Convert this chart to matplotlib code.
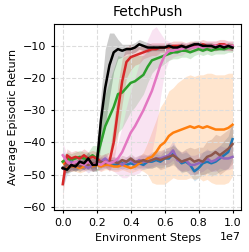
import matplotlib
matplotlib.use("Agg")
import matplotlib.pyplot as plt
import numpy as np

steps = np.linspace(0, 1e7, 41)

# mean curves
blue = [-48, -48, -47.5, -47, -47.5, -47, -47, -47.5, -47, -47, -46.5, -47, -47, -47, -46.5, -47, -46.5, -47, -46.5, -47,
        -46, -46, -45.5, -46, -45, -45, -43.5, -45, -46.5, -46, -47, -49, -48, -46.5, -46, -46.5, -46, -45, -44, -43, -39]
orange = [-46, -48, -47.5, -47.5, -48, -47.5, -47, -47.5, -47, -47.5, -47, -47, -47.5, -47.5, -47, -47.5, -48, -47.5, -46.5, -46,
          -45, -44.5, -43, -41, -40, -38, -37, -36.5, -36, -35.5, -35, -35.5, -35, -35.5, -35, -35.5, -36, -36, -36, -35.5, -34.5]
green = [-46, -45, -45.5, -45, -44.5, -45, -45, -44, -45, -40, -35, -32, -29, -25, -24.5, -23, -21.5, -21, -20, -19,
         -16.5, -14.5, -14, -13.5, -13, -12.5, -12, -12, -11.5, -11.5, -12, -11.5, -11, -11.5, -11, -11.5, -11, -11, -11, -10.5, -10.5]
red = [-53, -44, -45, -44.5, -45, -44, -45, -44.5, -45, -46, -45.5, -46, -40, -30, -21, -15, -13.5, -13, -12.5, -12,
       -11.5, -11, -11, -10.5, -10.5, -10.5, -10, -10, -10, -10.5, -10, -10, -10, -9.5, -10, -10, -10, -9.5, -9.5, -10, -10]
purple = [-48, -47, -46, -47.5, -46, -47, -48, -47, -46.5, -46, -45, -46.5, -46, -46, -47, -46, -45.5, -46.5, -45.5, -46,
          -46, -45.5, -45, -45, -44.5, -44, -42.5, -45.5, -46, -45.5, -47, -47, -46.5, -46, -45, -46, -45.5, -44.5, -45, -45, -44.5]
brown = [-48, -47, -47.5, -47, -47.5, -46.5, -47, -46.5, -46.5, -46, -46.5, -46, -46, -46.5, -45.5, -46, -45, -46, -46, -45.5,
         -46, -45.5, -45, -45.5, -45, -44.5, -44, -45, -46, -45.5, -45, -46, -45.5, -46, -44.5, -44, -43, -44, -43, -42, -40.5]
pink = [-44, -46, -47, -46, -46.5, -47, -46, -47, -46.5, -47, -46, -46.5, -46, -45, -43, -40, -37, -35, -32.5, -30,
        -27, -24, -20, -16, -13, -11.5, -11.5, -11, -11, -10.5, -10.5, -10.5, -10, -10.5, -10, -10, -10, -10, -10, -10, -10]
black = [-48, -48.5, -47, -47.5, -46, -46.5, -45, -47, -47, -33, -23, -16, -12, -11, -11.5, -11, -11, -10.5, -9.5, -10,
         -10.5, -10.5, -10.5, -10.5, -10.5, -10, -10.5, -10.5, -10, -10.5, -10, -9.5, -9.5, -10, -10, -10, -10.5, -10, -10.5, -10, -10.5]

# spread around each curve
blue_sd = [6, 2, 1.5, 1.5, 1.5, 1.5, 1.5, 1.5, 1.5, 1.5, 1.5, 1.5, 1.5, 1.5, 1.5, 1.5, 1.5, 1.5, 1.5, 1.5,
           2, 2, 2, 2, 2.5, 2.5, 3, 3, 3, 3, 3, 3, 3, 3.5, 3.5, 4, 4, 4, 4.5, 5, 6]
orange_sd = [2, 1.5, 1.5, 1.5, 1.5, 1.5, 1.5, 1.5, 1.5, 1.5, 1.5, 1.5, 1.5, 1.5, 1.5, 1.5, 1.5, 1.5, 2, 3,
             5, 8, 10, 12, 13, 14, 14, 15, 15.5, 16, 16, 16, 16, 16.5, 16.5, 17, 17, 17, 17, 17, 16]
green_sd = [2, 2, 2, 2, 2, 2, 2, 3, 4, 8, 10, 11, 12, 12, 11, 10, 9, 8, 7, 6,
            5, 4, 3, 3, 2.5, 2, 2, 2, 2, 2, 2, 1.5, 1.5, 1.5, 1.5, 1.5, 1.5, 1.5, 1.5, 1.5, 1.5]
red_sd = [4, 2, 2, 2, 2, 2, 2, 2, 2, 2, 2, 3, 6, 8, 7, 5, 4, 3, 3, 2,
          2, 2, 2, 1.5, 1.5, 1.5, 1.5, 1.5, 1.5, 1.5, 1.5, 1.5, 1.5, 1.5, 1.5, 1.5, 1.5, 1.5, 1.5, 1.5, 1.5]
purple_sd = [3, 2, 1.5, 1.5, 1.5, 1.5, 1.5, 1.5, 1.5, 1.5, 1.5, 1.5, 1.5, 1.5, 1.5, 1.5, 1.5, 1.5, 1.5, 2,
             2, 2, 2, 2, 2.5, 2.5, 3, 3, 3, 3, 3, 3, 3, 3, 3, 3, 3.5, 3.5, 3.5, 3.5, 3.5]
brown_sd = [3, 2, 1.5, 1.5, 1.5, 1.5, 1.5, 1.5, 1.5, 1.5, 1.5, 1.5, 1.5, 1.5, 1.5, 1.5, 1.5, 1.5, 2, 2,
            2, 2.5, 2.5, 3, 3, 3, 3, 3, 3, 3.5, 3.5, 4, 4, 4.5, 5, 5, 5.5, 6, 6, 6, 6]
pink_sd = [4, 2, 2, 2, 2, 2, 2, 2, 2, 2, 2, 2, 3, 5, 8, 11, 13, 15, 17, 18,
           19, 19, 16, 10, 5, 3, 2, 2, 2, 1.5, 1.5, 1.5, 1.5, 1.5, 1.5, 1.5, 1.5, 1.5, 1.5, 1.5, 1.5]
black_sd = [1, 1, 1.5, 1.5, 2, 2, 2, 2, 2, 8, 12, 10, 6, 3, 2, 1.5, 1.5, 1.5, 1.5, 1.5,
            1.5, 1, 1, 1, 1, 1, 1, 1, 1, 1, 1, 1, 1, 1, 1, 1, 1, 1, 1, 1, 1]

series = [
    (blue, blue_sd, "tab:blue"),
    (orange, orange_sd, "tab:orange"),
    (green, green_sd, "tab:green"),
    (red, red_sd, "tab:red"),
    (purple, purple_sd, "tab:purple"),
    (brown, brown_sd, "tab:brown"),
    (pink, pink_sd, "tab:pink"),
    (black, black_sd, "black"),
]


def main():
    fig = plt.figure(figsize=(2.49, 2.52), dpi=100)
    ax = fig.add_axes([0.218, 0.167, 0.750, 0.737])

    for mean, sd, color in series:
        mean = np.array(mean)
        sd = np.array(sd)
        ax.fill_between(steps, mean - sd, mean + sd, color=color, alpha=0.2, linewidth=0)
        ax.plot(steps, mean, color=color, linewidth=1.8)

    ax.set_ylim(-61, -3.25)
    ax.set_yticks([-60, -50, -40, -30, -20, -10])
    ax.set_xticks(np.arange(0, 1.01e7, 0.2e7))
    ax.grid(True, linestyle="--", color="#dddddd", linewidth=0.8)
    ax.tick_params(labelsize=8, length=2.5, pad=3)
    ax.xaxis.get_offset_text().set_fontsize(8)
    ax.set_title("FetchPush", fontsize=10)
    ax.set_xlabel("Environment Steps", fontsize=8)
    ax.set_ylabel("Average Episodic Return", fontsize=8)

    fig.savefig("out.png", dpi=100)


if __name__ == "__main__":
    main()
